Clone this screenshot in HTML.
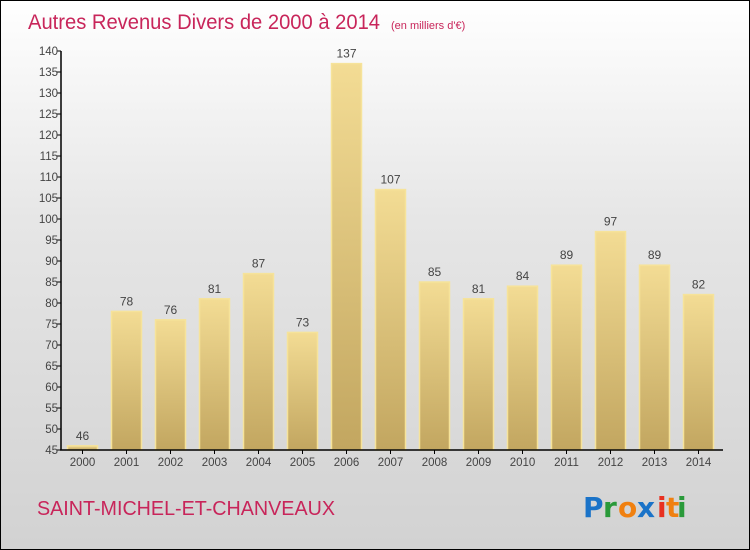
<!DOCTYPE html>
<html><head><meta charset="utf-8"><style>
body{margin:0}
#c{position:relative;width:748px;height:548px;border:1px solid #000;background:linear-gradient(#ffffff,#e6e6e6 40%,#d2d2d2);font-family:"Liberation Sans",sans-serif;overflow:hidden}
</style></head><body>
<div id="c">
<svg id="s" width="748" height="548" xmlns="http://www.w3.org/2000/svg">
<defs><linearGradient id="g" x1="0" y1="0" x2="0" y2="1"><stop offset="0" stop-color="#f3dc94"/><stop offset="1" stop-color="#c2a660"/></linearGradient></defs>
<text x="27" y="28" font-size="21" fill="#c8255a" textLength="352" lengthAdjust="spacingAndGlyphs">Autres Revenus Divers de 2000 à 2014</text>
<text x="390" y="28" font-size="11" fill="#c8255a">(en milliers d'€)</text>
<text x="36" y="514" font-size="20" fill="#c8255a" textLength="298" lengthAdjust="spacingAndGlyphs">SAINT-MICHEL-ET-CHANVEAUX</text>
<g font-size="28" font-weight="bold" font-family="'DejaVu Sans',sans-serif">
<text x="582" y="516" fill="#1a73c8">P</text><text x="602" y="516" fill="#2a9a3a">r</text><text x="617" y="516" fill="#f08010">o</text><text x="636" y="516" fill="#1a73c8">x</text><text x="656" y="516" fill="#e83020">i</text><text x="665" y="516" fill="#f08010">t</text><text x="676" y="516" fill="#2a9a3a">i</text></g>
<g id="bars"></g><g id="axes"></g>
</svg></div>
<script>
const years=["2000","2001","2002","2003","2004","2005","2006","2007","2008","2009","2010","2011","2012","2013","2014"];
const values=[46,78,76,81,87,73,137,107,85,81,84,89,97,89,82];
const yTicks=[45,50,55,60,65,70,75,80,85,90,95,100,105,110,115,120,125,130,135,140];
const NS="http://www.w3.org/2000/svg";
const y0=449,ymin=45,ymax=140,ytop=50;
function ys(v){return y0-(v-ymin)/(ymax-ymin)*(y0-ytop);}
function xs(i){return 59+44*i;}
function mk(t,a,p){const e=document.createElementNS(NS,t);for(const k in a)e.setAttribute(k,a[k]);p.appendChild(e);return e;}
const B=document.getElementById('bars'),A=document.getElementById('axes');
values.forEach((v,i)=>{
 const r=mk('rect',{x:xs(i)+7.5,y:ys(v),width:30,height:y0-ys(v),fill:'url(#g)',stroke:'#f6e39a','stroke-width':1.5},B);
 
 
 const t=mk('text',{x:xs(i)+22.5,y:ys(v)-6,'font-size':12,fill:'#444','text-anchor':'middle'},B);t.textContent=v;
 
 
 const xl=mk('text',{x:xs(i)+22.5,y:465,'font-size':11.5,fill:'#444','text-anchor':'middle'},A);xl.textContent=years[i];
 
 
 mk('line',{x1:xs(i)+22.5,x2:xs(i)+22.5,y1:y0,y2:y0+4,stroke:'#000'},A);
});
yTicks.forEach(v=>{
 mk('line',{x1:56,x2:60,y1:ys(v),y2:ys(v),stroke:'#000'},A);
 const t=mk('text',{x:57,y:ys(v)+4,'font-size':11.5,fill:'#444','text-anchor':'end'},A);t.textContent=v;
 
 
});
const ya=mk('line',{x1:60,x2:60,y1:ytop,y2:y0,stroke:'#000','stroke-width':1.5},A);


const xa=mk('line',{x1:59,x2:722,y1:y0,y2:y0,stroke:'#000','stroke-width':1.5},A);


</script>
</body></html>
